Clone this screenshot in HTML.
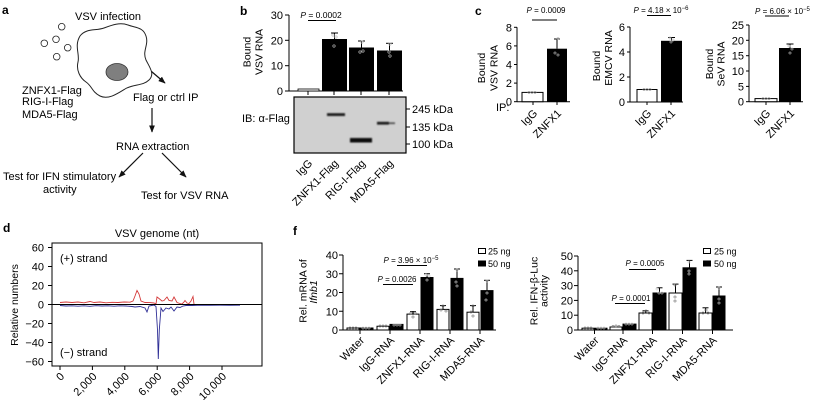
<!DOCTYPE html>
<html><head><meta charset="utf-8"><style>
html,body{margin:0;padding:0;background:#fff;width:813px;height:400px;overflow:hidden}
svg{display:block;font-family:"Liberation Sans",Arial,sans-serif}
</style></head><body>
<svg width="813" height="400" viewBox="0 0 813 400" xmlns="http://www.w3.org/2000/svg">
<defs>
<marker id="ah" viewBox="0 0 10 10" refX="9" refY="5" markerWidth="6" markerHeight="6" orient="auto"><path d="M0,1 L10,5 L0,9 Z" fill="#111"/></marker>
<filter id="bl" x="-20%" y="-100%" width="140%" height="300%"><feGaussianBlur stdDeviation="0.8"/></filter>
</defs>
<rect width="813" height="400" fill="#fff"/>

<!-- ===== Panel a ===== -->
<text x="2" y="14" font-size="12" font-weight="bold">a</text>
<text x="75" y="20" font-size="11">VSV infection</text>
<g fill="#fff" stroke="#222" stroke-width="0.8">
<circle cx="61.7" cy="26.7" r="3.3"/><circle cx="56" cy="39.3" r="3.3"/><circle cx="44.3" cy="43.3" r="3.3"/><circle cx="67.7" cy="47.7" r="3.3"/><circle cx="56.7" cy="56.7" r="3.3"/>
</g>
<path d="M80,36 C86,28 96,31 104,28 C112,25 120,22 128,25 C136,28 143,27 146,36 C149,45 142,51 146,60 C150,68 155,74 149,80 C143,86 133,84 125,89 C117,94 108,100 100,96 C92,92 92,86 86,82 C80,78 76,70 78,62 C80,54 74,46 80,36 Z" fill="#fff" stroke="#222" stroke-width="1"/>
<ellipse cx="117" cy="72" rx="11" ry="8.5" fill="#7f7f7f" stroke="#333" stroke-width="0.8"/>
<g stroke="#111" stroke-width="1.2" marker-end="url(#ah)">
<line x1="151.5" y1="71.5" x2="165" y2="83"/>
<line x1="152" y1="108" x2="152" y2="132"/>
<line x1="143" y1="153" x2="119" y2="177"/>
<line x1="162" y1="153" x2="186" y2="177"/>
</g>
<text x="22" y="94" font-size="11">ZNFX1-Flag</text>
<text x="22" y="105" font-size="11">RIG-I-Flag</text>
<text x="22" y="118" font-size="11">MDA5-Flag</text>
<text x="133" y="101" font-size="11">Flag or ctrl IP</text>
<text x="116" y="150" font-size="11">RNA extraction</text>
<text x="3" y="180" font-size="11">Test for IFN stimulatory</text>
<text x="43" y="193" font-size="11">activity</text>
<text x="141" y="199" font-size="11">Test for VSV RNA</text>

<!-- ===== Panel b ===== -->
<text x="240" y="15" font-size="12" font-weight="bold">b</text>
<text x="321" y="18" font-size="8.5" text-anchor="middle"><tspan font-style="italic">P</tspan> = 0.0002</text>
<line x1="308" y1="20.5" x2="336" y2="20.5" stroke="#000" stroke-width="1"/>
<g font-size="10.5" text-anchor="middle">
<text transform="translate(250.5,52) rotate(-90)">Bound</text>
<text transform="translate(262.5,52) rotate(-90)">VSV RNA</text>
</g>
<g stroke="#000" stroke-width="1">
<line x1="289" y1="15" x2="289" y2="91"/>
<line x1="289" y1="91" x2="403" y2="91"/>
<line x1="285" y1="15" x2="289" y2="15"/><line x1="285" y1="40.3" x2="289" y2="40.3"/><line x1="285" y1="65.7" x2="289" y2="65.7"/><line x1="285" y1="91" x2="289" y2="91"/>
<line x1="308" y1="91" x2="308" y2="95"/><line x1="334" y1="91" x2="334" y2="95"/><line x1="361" y1="91" x2="361" y2="95"/><line x1="389" y1="91" x2="389" y2="95"/>
</g>
<g font-size="11" text-anchor="end">
<text x="283" y="19">30</text><text x="283" y="44.3">20</text><text x="283" y="69.7">10</text><text x="283" y="95">0</text>
</g>
<rect x="298" y="89" width="21" height="2" fill="#fff" stroke="#000" stroke-width="0.8"/>
<rect x="322" y="39" width="25" height="52" fill="#000"/>
<rect x="349" y="47.5" width="25" height="43.5" fill="#000"/>
<rect x="377" y="50.5" width="25" height="40.5" fill="#000"/>
<g stroke="#000" stroke-width="1">
<line x1="334.5" y1="39" x2="334.5" y2="33"/><line x1="331" y1="33" x2="338" y2="33"/>
<line x1="361.5" y1="47.5" x2="361.5" y2="41"/><line x1="358" y1="41" x2="365" y2="41"/>
<line x1="389.5" y1="50.5" x2="389.5" y2="43.3"/><line x1="386" y1="43.3" x2="393" y2="43.3"/>
</g>
<g fill="none" stroke="#bbb" stroke-width="0.7">
<circle cx="333" cy="35" r="1.2"/><circle cx="336" cy="37" r="1.2"/><circle cx="334" cy="46" r="1.2"/>
<circle cx="362" cy="42" r="1.2"/><circle cx="360" cy="52" r="1.2"/><circle cx="363" cy="51" r="1.2"/>
<circle cx="390" cy="44" r="1.2"/><circle cx="389" cy="52" r="1.2"/><circle cx="390" cy="56" r="1.2"/>
</g>
<!-- blot -->
<rect x="294" y="97" width="112" height="56" fill="#d0d0d0" stroke="#000" stroke-width="1.2"/>
<g filter="url(#bl)">
<rect x="327" y="113.2" width="18" height="2.8" fill="#1a1a1a"/>
<rect x="350" y="138" width="22" height="4.5" fill="#111"/>
<rect x="377" y="121.8" width="12" height="2.8" fill="#1a1a1a"/>
<rect x="389" y="122.3" width="6" height="1.8" fill="#555"/>
</g>
<g stroke="#000" stroke-width="1">
<line x1="406" y1="109" x2="410" y2="109"/><line x1="406" y1="127" x2="410" y2="127"/><line x1="406" y1="144" x2="410" y2="144"/>
</g>
<g font-size="11">
<text x="412" y="113">245 kDa</text><text x="412" y="131">135 kDa</text><text x="412" y="148">100 kDa</text>
<text x="242" y="122">IB: α-Flag</text>
</g>
<g font-size="11" text-anchor="end">
<text transform="translate(313,164) rotate(-45)">IgG</text>
<text transform="translate(339,164) rotate(-45)">ZNFX1-Flag</text>
<text transform="translate(366,164) rotate(-45)">RIG-I-Flag</text>
<text transform="translate(394,164) rotate(-45)">MDA5-Flag</text>
</g>

<!-- ===== Panel c ===== -->
<text x="475" y="15" font-size="12" font-weight="bold">c</text>
<!-- c1 -->
<text x="546" y="13" font-size="8" text-anchor="middle"><tspan font-style="italic">P</tspan> = 0.0009</text>
<line x1="532" y1="20" x2="557" y2="20" stroke="#000"/>
<g font-size="10.5" text-anchor="middle">
<text transform="translate(485,68) rotate(-90)">Bound</text>
<text transform="translate(497.5,68) rotate(-90)">VSV RNA</text>
</g>
<g stroke="#000" stroke-width="1">
<line x1="517" y1="27.3" x2="517" y2="101.7"/><line x1="517" y1="101.7" x2="570" y2="101.7"/>
<line x1="514" y1="27.3" x2="517" y2="27.3"/><line x1="514" y1="45.9" x2="517" y2="45.9"/><line x1="514" y1="64.5" x2="517" y2="64.5"/><line x1="514" y1="83.1" x2="517" y2="83.1"/><line x1="514" y1="101.7" x2="517" y2="101.7"/>
<line x1="533" y1="101.7" x2="533" y2="105"/><line x1="557" y1="101.7" x2="557" y2="105"/>
</g>
<g font-size="11" text-anchor="end">
<text x="512" y="31.3">8</text><text x="512" y="49.9">6</text><text x="512" y="68.5">4</text><text x="512" y="87.1">2</text><text x="512" y="105.7">0</text>
</g>
<rect x="522" y="92.4" width="21" height="9.3" fill="#fff" stroke="#000"/>
<rect x="547" y="48.7" width="20" height="53" fill="#000"/>
<line x1="557" y1="48.7" x2="557" y2="39" stroke="#000"/><line x1="554" y1="39" x2="560" y2="39" stroke="#000"/>
<g fill="none" stroke="#999" stroke-width="0.6"><circle cx="529" cy="92.4" r="1.1"/><circle cx="532" cy="92.4" r="1.1"/><circle cx="535" cy="92.4" r="1.1"/></g>
<g fill="none" stroke="#bbb" stroke-width="0.6"><circle cx="558" cy="38.5" r="1.1"/><circle cx="555" cy="53" r="1.1"/><circle cx="558" cy="55" r="1.1"/></g>
<text x="496" y="111" font-size="11">IP:</text>
<g font-size="11" text-anchor="end">
<text transform="translate(538,114) rotate(-45)">IgG</text>
<text transform="translate(562,114) rotate(-45)">ZNFX1</text>
</g>
<!-- c2 -->
<text x="661" y="13" font-size="8" text-anchor="middle"><tspan font-style="italic">P</tspan> = 4.18 × 10<tspan font-size="6" dy="-3">−6</tspan></text>
<line x1="647" y1="15.5" x2="671" y2="15.5" stroke="#000"/>
<g font-size="10.5" text-anchor="middle">
<text transform="translate(600,66) rotate(-90)">Bound</text>
<text transform="translate(612,58) rotate(-90)">EMCV RNA</text>
</g>
<g stroke="#000" stroke-width="1">
<line x1="630" y1="27" x2="630" y2="102"/><line x1="630" y1="102" x2="683" y2="102"/>
<line x1="627" y1="27" x2="630" y2="27"/><line x1="627" y1="52" x2="630" y2="52"/><line x1="627" y1="77" x2="630" y2="77"/><line x1="627" y1="102" x2="630" y2="102"/>
<line x1="647" y1="102" x2="647" y2="105"/><line x1="671" y1="102" x2="671" y2="105"/>
</g>
<g font-size="11" text-anchor="end">
<text x="625" y="31">6</text><text x="625" y="56">4</text><text x="625" y="81">2</text><text x="625" y="106">0</text>
</g>
<rect x="637" y="89.5" width="20" height="12.5" fill="#fff" stroke="#000"/>
<rect x="661" y="40.8" width="21" height="61.2" fill="#000"/>
<line x1="671.5" y1="40.8" x2="671.5" y2="37.5" stroke="#000"/><line x1="668" y1="37.5" x2="675" y2="37.5" stroke="#000"/>
<g fill="none" stroke="#999" stroke-width="0.6"><circle cx="644" cy="89.5" r="1.1"/><circle cx="647" cy="89.5" r="1.1"/><circle cx="650" cy="89.5" r="1.1"/></g>
<g fill="none" stroke="#bbb" stroke-width="0.6"><circle cx="670" cy="38" r="1.1"/><circle cx="673" cy="40" r="1.1"/><circle cx="671" cy="42" r="1.1"/></g>
<g font-size="11" text-anchor="end">
<text transform="translate(652,114) rotate(-45)">IgG</text>
<text transform="translate(676,114) rotate(-45)">ZNFX1</text>
</g>
<!-- c3 -->
<text x="755" y="14" font-size="8"><tspan font-style="italic">P</tspan> = 6.06 × 10<tspan font-size="6" dy="-3">−5</tspan></text>
<line x1="765" y1="16" x2="789" y2="16" stroke="#000"/>
<g font-size="10.5" text-anchor="middle">
<text transform="translate(713,64) rotate(-90)">Bound</text>
<text transform="translate(724.5,64) rotate(-90)">SeV RNA</text>
</g>
<g stroke="#000" stroke-width="1">
<line x1="749" y1="25" x2="749" y2="101.7"/><line x1="749" y1="101.7" x2="803" y2="101.7"/>
<line x1="746" y1="25" x2="749" y2="25"/><line x1="746" y1="40.3" x2="749" y2="40.3"/><line x1="746" y1="55.7" x2="749" y2="55.7"/><line x1="746" y1="71" x2="749" y2="71"/><line x1="746" y1="86.4" x2="749" y2="86.4"/><line x1="746" y1="101.7" x2="749" y2="101.7"/>
<line x1="766" y1="101.7" x2="766" y2="105"/><line x1="790" y1="101.7" x2="790" y2="105"/>
</g>
<g font-size="11" text-anchor="end">
<text x="744" y="29">25</text><text x="744" y="44.3">20</text><text x="744" y="59.7">15</text><text x="744" y="75">10</text><text x="744" y="90.4">5</text><text x="744" y="105.7">0</text>
</g>
<rect x="755" y="98.6" width="22" height="3.1" fill="#fff" stroke="#000"/>
<rect x="779" y="48" width="22" height="53.7" fill="#000"/>
<line x1="790" y1="48" x2="790" y2="44" stroke="#000"/><line x1="786.5" y1="44" x2="793.5" y2="44" stroke="#000"/>
<g fill="none" stroke="#999" stroke-width="0.6"><circle cx="763" cy="98.6" r="1.1"/><circle cx="766" cy="98.6" r="1.1"/><circle cx="769" cy="98.6" r="1.1"/></g>
<g fill="none" stroke="#bbb" stroke-width="0.6"><circle cx="789" cy="46" r="1.1"/><circle cx="792" cy="49" r="1.1"/><circle cx="790" cy="53" r="1.1"/></g>
<g font-size="11" text-anchor="end">
<text transform="translate(771,114) rotate(-45)">IgG</text>
<text transform="translate(795,114) rotate(-45)">ZNFX1</text>
</g>

<!-- ===== Panel d ===== -->
<text x="3" y="232" font-size="12" font-weight="bold">d</text>
<text x="157" y="237" font-size="11" text-anchor="middle">VSV genome (nt)</text>
<text transform="translate(18,305) rotate(-90)" font-size="10.5" text-anchor="middle">Relative numbers</text>
<rect x="52" y="243" width="210" height="123" fill="none" stroke="#000" stroke-width="1"/>
<g stroke="#000" stroke-width="1">
<line x1="48" y1="247.5" x2="52" y2="247.5"/><line x1="48" y1="266.5" x2="52" y2="266.5"/><line x1="48" y1="285.5" x2="52" y2="285.5"/><line x1="48" y1="304.5" x2="52" y2="304.5"/><line x1="48" y1="323.5" x2="52" y2="323.5"/><line x1="48" y1="342.5" x2="52" y2="342.5"/><line x1="48" y1="361.5" x2="52" y2="361.5"/>
<line x1="60" y1="366" x2="60" y2="370"/><line x1="92.4" y1="366" x2="92.4" y2="370"/><line x1="124.8" y1="366" x2="124.8" y2="370"/><line x1="157.2" y1="366" x2="157.2" y2="370"/><line x1="189.6" y1="366" x2="189.6" y2="370"/><line x1="222" y1="366" x2="222" y2="370"/>
</g>
<g font-size="11" text-anchor="end">
<text x="44" y="251.5">60</text><text x="44" y="270.5">40</text><text x="44" y="289.5">20</text><text x="44" y="308.5">0</text><text x="44" y="327.5">−20</text><text x="44" y="346.5">−40</text><text x="44" y="365.5">−60</text>
</g>
<g font-size="11" text-anchor="end">
<text transform="translate(65,377) rotate(-45)">0</text>
<text transform="translate(97.4,377) rotate(-45)">2,000</text>
<text transform="translate(129.8,377) rotate(-45)">4,000</text>
<text transform="translate(162.2,377) rotate(-45)">6,000</text>
<text transform="translate(194.6,377) rotate(-45)">8,000</text>
<text transform="translate(227,377) rotate(-45)">10,000</text>
</g>
<text x="60" y="262" font-size="11">(+) strand</text>
<text x="60" y="356" font-size="11">(−) strand</text>
<polyline fill="none" stroke="#d43a3a" stroke-width="0.9" points="60,302.5 66,302 72,302.5 78,302 84,302.8 90,301.5 94,302.5 100,302 106,302.8 112,302.3 118,302.5 124,302 130,302.2 133,301 135,296 137,290.5 139,294 141,301 145,302.5 150,302.6 154,303 156,304 157,297 159,298.5 162,301 164,300.5 167,297 169,300.5 172,301 174,297 177,302.5 180,303.5 182,304 184,302 185,300.5 187,303 189,303.5 191,301 193,296.5 194,304"/>
<polyline fill="none" stroke="#2f2f96" stroke-width="0.9" points="60,305.5 66,306 72,305.8 78,306.2 84,305.8 90,306.3 96,305.7 102,306 108,305.8 114,306.2 120,305.8 126,306 132,306.5 135,307 140,306.5 145,308 147,312 149,306 154,305 156,306.5 157.5,330 158.3,359 159.3,330 161,308 163,311.5 166,308 169,309 171,307 174,311 177,307 180,307.5 183,306 186,305.5 192,305.5 200,305.2 210,305.3 220,305.2 230,305.3 240,305.2"/>
<line x1="52" y1="304.5" x2="262" y2="304.5" stroke="#000" stroke-width="1.1"/>

<!-- ===== Panel f ===== -->
<text x="293" y="235" font-size="12" font-weight="bold">f</text>
<!-- f left -->
<g font-size="10.5" text-anchor="middle">
<text transform="translate(306.5,291) rotate(-90)">Rel. mRNA of</text>
<text transform="translate(317,292) rotate(-90)" font-style="italic">Ifnb1</text>
</g>
<g stroke="#000" stroke-width="1">
<line x1="343" y1="255" x2="343" y2="330"/><line x1="343" y1="330" x2="496" y2="330"/>
<line x1="339" y1="255" x2="343" y2="255"/><line x1="339" y1="273.75" x2="343" y2="273.75"/><line x1="339" y1="292.5" x2="343" y2="292.5"/><line x1="339" y1="311.25" x2="343" y2="311.25"/><line x1="339" y1="330" x2="343" y2="330"/>
<line x1="360" y1="330" x2="360" y2="334"/><line x1="390" y1="330" x2="390" y2="334"/><line x1="420" y1="330" x2="420" y2="334"/><line x1="450" y1="330" x2="450" y2="334"/><line x1="480" y1="330" x2="480" y2="334"/>
</g>
<g font-size="11" text-anchor="end">
<text x="338" y="259">40</text><text x="338" y="277.75">30</text><text x="338" y="296.5">20</text><text x="338" y="315.25">10</text><text x="338" y="334">0</text>
</g>
<g stroke="#000" stroke-width="1">
<rect x="347" y="328" width="12" height="2" fill="#fff"/>
<rect x="360" y="328" width="13" height="2" fill="#000"/>
<rect x="377" y="326.25" width="12" height="3.75" fill="#fff"/>
<rect x="390" y="324.4" width="13" height="5.6" fill="#000"/>
<rect x="407" y="314.1" width="12" height="15.9" fill="#fff"/>
<rect x="421" y="277.5" width="12" height="52.5" fill="#000"/>
<rect x="437" y="309.4" width="12" height="20.6" fill="#fff"/>
<rect x="451" y="278.4" width="12" height="51.6" fill="#000"/>
<rect x="467" y="312.2" width="12" height="17.8" fill="#fff"/>
<rect x="481" y="290.6" width="12" height="39.4" fill="#000"/>
<line x1="413" y1="314.1" x2="413" y2="311.6"/><line x1="410" y1="311.6" x2="416" y2="311.6"/>
<line x1="427" y1="277.5" x2="427" y2="273.75"/><line x1="424" y1="273.75" x2="430" y2="273.75"/>
<line x1="443" y1="309.4" x2="443" y2="305.6"/><line x1="440" y1="305.6" x2="446" y2="305.6"/>
<line x1="457" y1="278.4" x2="457" y2="269"/><line x1="454" y1="269" x2="460" y2="269"/>
<line x1="473" y1="312.2" x2="473" y2="305.6"/><line x1="470" y1="305.6" x2="476" y2="305.6"/>
<line x1="487" y1="290.6" x2="487" y2="280.3"/><line x1="484" y1="280.3" x2="490" y2="280.3"/>
</g>
<g fill="none" stroke="#777" stroke-width="0.6">
<circle cx="350" cy="328" r="1.1"/><circle cx="353" cy="328" r="1.1"/><circle cx="356" cy="328" r="1.1"/>
<circle cx="380" cy="326" r="1.1"/><circle cx="383" cy="326" r="1.1"/><circle cx="386" cy="326" r="1.1"/>
<circle cx="411" cy="313" r="1.1"/><circle cx="415" cy="313" r="1.1"/><circle cx="413" cy="317" r="1.1"/>
<circle cx="441" cy="310" r="1.1"/><circle cx="443" cy="306" r="1.1"/><circle cx="446" cy="311" r="1.1"/>
<circle cx="471" cy="312" r="1.1"/><circle cx="473" cy="306" r="1.1"/><circle cx="473" cy="316" r="1.1"/>
</g>
<g fill="none" stroke="#ccc" stroke-width="0.6">
<circle cx="363" cy="328" r="1.1"/><circle cx="366" cy="328" r="1.1"/><circle cx="369" cy="328" r="1.1"/>
<circle cx="394" cy="325" r="1.1"/><circle cx="397" cy="325" r="1.1"/><circle cx="400" cy="325" r="1.1"/>
<circle cx="426" cy="275" r="1.1"/><circle cx="429" cy="276" r="1.1"/><circle cx="427" cy="280" r="1.1"/>
<circle cx="457" cy="270" r="1.1"/><circle cx="457" cy="286" r="1.1"/><circle cx="456" cy="282" r="1.1"/>
<circle cx="487" cy="281" r="1.1"/><circle cx="487" cy="293" r="1.1"/><circle cx="486" cy="300" r="1.1"/>
</g>
<text x="411" y="263" font-size="8" text-anchor="middle"><tspan font-style="italic">P</tspan> = 3.96 × 10<tspan font-size="6" dy="-3">−5</tspan></text>
<line x1="397" y1="265.5" x2="427" y2="265.5" stroke="#000"/>
<text x="397" y="282" font-size="8" text-anchor="middle"><tspan font-style="italic">P</tspan> = 0.0026</text>
<line x1="383" y1="284.5" x2="413" y2="284.5" stroke="#000"/>
<rect x="478.5" y="248.5" width="7" height="5" fill="#fff" stroke="#000"/>
<rect x="478.5" y="261" width="7" height="5" fill="#000" stroke="#000"/>
<text x="488" y="254.5" font-size="9">25 ng</text>
<text x="488" y="267" font-size="9">50 ng</text>
<g font-size="11" text-anchor="end">
<text transform="translate(365,341) rotate(-45)">Water</text>
<text transform="translate(395,341) rotate(-45)">IgG-RNA</text>
<text transform="translate(425,341) rotate(-45)">ZNFX1-RNA</text>
<text transform="translate(455,341) rotate(-45)">RIG-I-RNA</text>
<text transform="translate(485,341) rotate(-45)">MDA5-RNA</text>
</g>

<!-- f right -->
<g font-size="10.5" text-anchor="middle">
<text transform="translate(537.5,291) rotate(-90)">Rel. IFN-β-Luc</text>
<text transform="translate(547.5,291) rotate(-90)">activity</text>
</g>
<g stroke="#000" stroke-width="1">
<line x1="578" y1="256" x2="578" y2="330"/><line x1="578" y1="330" x2="733" y2="330"/>
<line x1="574" y1="256" x2="578" y2="256"/><line x1="574" y1="270.8" x2="578" y2="270.8"/><line x1="574" y1="285.6" x2="578" y2="285.6"/><line x1="574" y1="300.4" x2="578" y2="300.4"/><line x1="574" y1="315.2" x2="578" y2="315.2"/><line x1="574" y1="330" x2="578" y2="330"/>
<line x1="594.5" y1="330" x2="594.5" y2="334"/><line x1="623" y1="330" x2="623" y2="334"/><line x1="652.5" y1="330" x2="652.5" y2="334"/><line x1="682.5" y1="330" x2="682.5" y2="334"/><line x1="712.5" y1="330" x2="712.5" y2="334"/>
</g>
<g font-size="11" text-anchor="end">
<text x="573" y="260">50</text><text x="573" y="274.8">40</text><text x="573" y="289.6">30</text><text x="573" y="304.4">20</text><text x="573" y="319.2">10</text><text x="573" y="334">0</text>
</g>
<g stroke="#000" stroke-width="1">
<rect x="582" y="328.2" width="12" height="1.8" fill="#fff"/>
<rect x="595" y="328.2" width="12" height="1.8" fill="#000"/>
<rect x="610" y="327" width="12" height="3" fill="#fff"/>
<rect x="623" y="324.1" width="13" height="5.9" fill="#000"/>
<rect x="639" y="313" width="13" height="17" fill="#fff"/>
<rect x="653" y="293" width="13" height="37" fill="#000"/>
<rect x="669" y="293" width="13" height="37" fill="#fff"/>
<rect x="683" y="267.8" width="13" height="62.2" fill="#000"/>
<rect x="699" y="313" width="13" height="17" fill="#fff"/>
<rect x="713" y="296" width="12" height="34" fill="#000"/>
<line x1="645.5" y1="313" x2="645.5" y2="310.8"/><line x1="642.5" y1="310.8" x2="648.5" y2="310.8"/>
<line x1="659.5" y1="293" x2="659.5" y2="287.8"/><line x1="656.5" y1="287.8" x2="662.5" y2="287.8"/>
<line x1="675.5" y1="293" x2="675.5" y2="284.1"/><line x1="672.5" y1="284.1" x2="678.5" y2="284.1"/>
<line x1="689.5" y1="267.8" x2="689.5" y2="260.4"/><line x1="686.5" y1="260.4" x2="692.5" y2="260.4"/>
<line x1="705.5" y1="313" x2="705.5" y2="307.8"/><line x1="702.5" y1="307.8" x2="708.5" y2="307.8"/>
<line x1="719" y1="296" x2="719" y2="287"/><line x1="716" y1="287" x2="722" y2="287"/>
</g>
<g fill="none" stroke="#777" stroke-width="0.6">
<circle cx="585" cy="328" r="1.1"/><circle cx="588" cy="328" r="1.1"/><circle cx="591" cy="328" r="1.1"/>
<circle cx="613" cy="326.5" r="1.1"/><circle cx="616" cy="326" r="1.1"/><circle cx="619" cy="326.5" r="1.1"/>
<circle cx="643" cy="313" r="1.1"/><circle cx="646" cy="311" r="1.1"/><circle cx="649" cy="313" r="1.1"/>
<circle cx="675" cy="285" r="1.1"/><circle cx="675" cy="297" r="1.1"/><circle cx="675" cy="301" r="1.1"/>
<circle cx="703" cy="313" r="1.1"/><circle cx="706" cy="310" r="1.1"/><circle cx="708" cy="313" r="1.1"/>
</g>
<g fill="none" stroke="#ccc" stroke-width="0.6">
<circle cx="598" cy="328" r="1.1"/><circle cx="601" cy="328" r="1.1"/><circle cx="604" cy="328" r="1.1"/>
<circle cx="626" cy="324" r="1.1"/><circle cx="629" cy="324" r="1.1"/><circle cx="632" cy="324" r="1.1"/>
<circle cx="657" cy="289" r="1.1"/><circle cx="659" cy="293" r="1.1"/><circle cx="662" cy="293" r="1.1"/>
<circle cx="689" cy="262" r="1.1"/><circle cx="689" cy="271" r="1.1"/><circle cx="689" cy="274" r="1.1"/>
<circle cx="719" cy="288" r="1.1"/><circle cx="719" cy="299" r="1.1"/><circle cx="719" cy="303" r="1.1"/>
</g>
<text x="645" y="266" font-size="8" text-anchor="middle"><tspan font-style="italic">P</tspan> = 0.0005</text>
<line x1="629" y1="269.5" x2="656" y2="269.5" stroke="#000"/>
<text x="631" y="301" font-size="8" text-anchor="middle"><tspan font-style="italic">P</tspan> = 0.0001</text>
<line x1="615" y1="303.5" x2="645" y2="303.5" stroke="#000"/>
<rect x="703.5" y="248.5" width="7" height="5" fill="#fff" stroke="#000"/>
<rect x="703.5" y="261" width="7" height="5" fill="#000" stroke="#000"/>
<text x="714" y="254.5" font-size="9">25 ng</text>
<text x="714" y="267" font-size="9">50 ng</text>
<g font-size="11" text-anchor="end">
<text transform="translate(599.5,341) rotate(-45)">Water</text>
<text transform="translate(628,341) rotate(-45)">IgG-RNA</text>
<text transform="translate(657.5,341) rotate(-45)">ZNFX1-RNA</text>
<text transform="translate(687.5,341) rotate(-45)">RIG-I-RNA</text>
<text transform="translate(717.5,341) rotate(-45)">MDA5-RNA</text>
</g>
</svg>
</body></html>
